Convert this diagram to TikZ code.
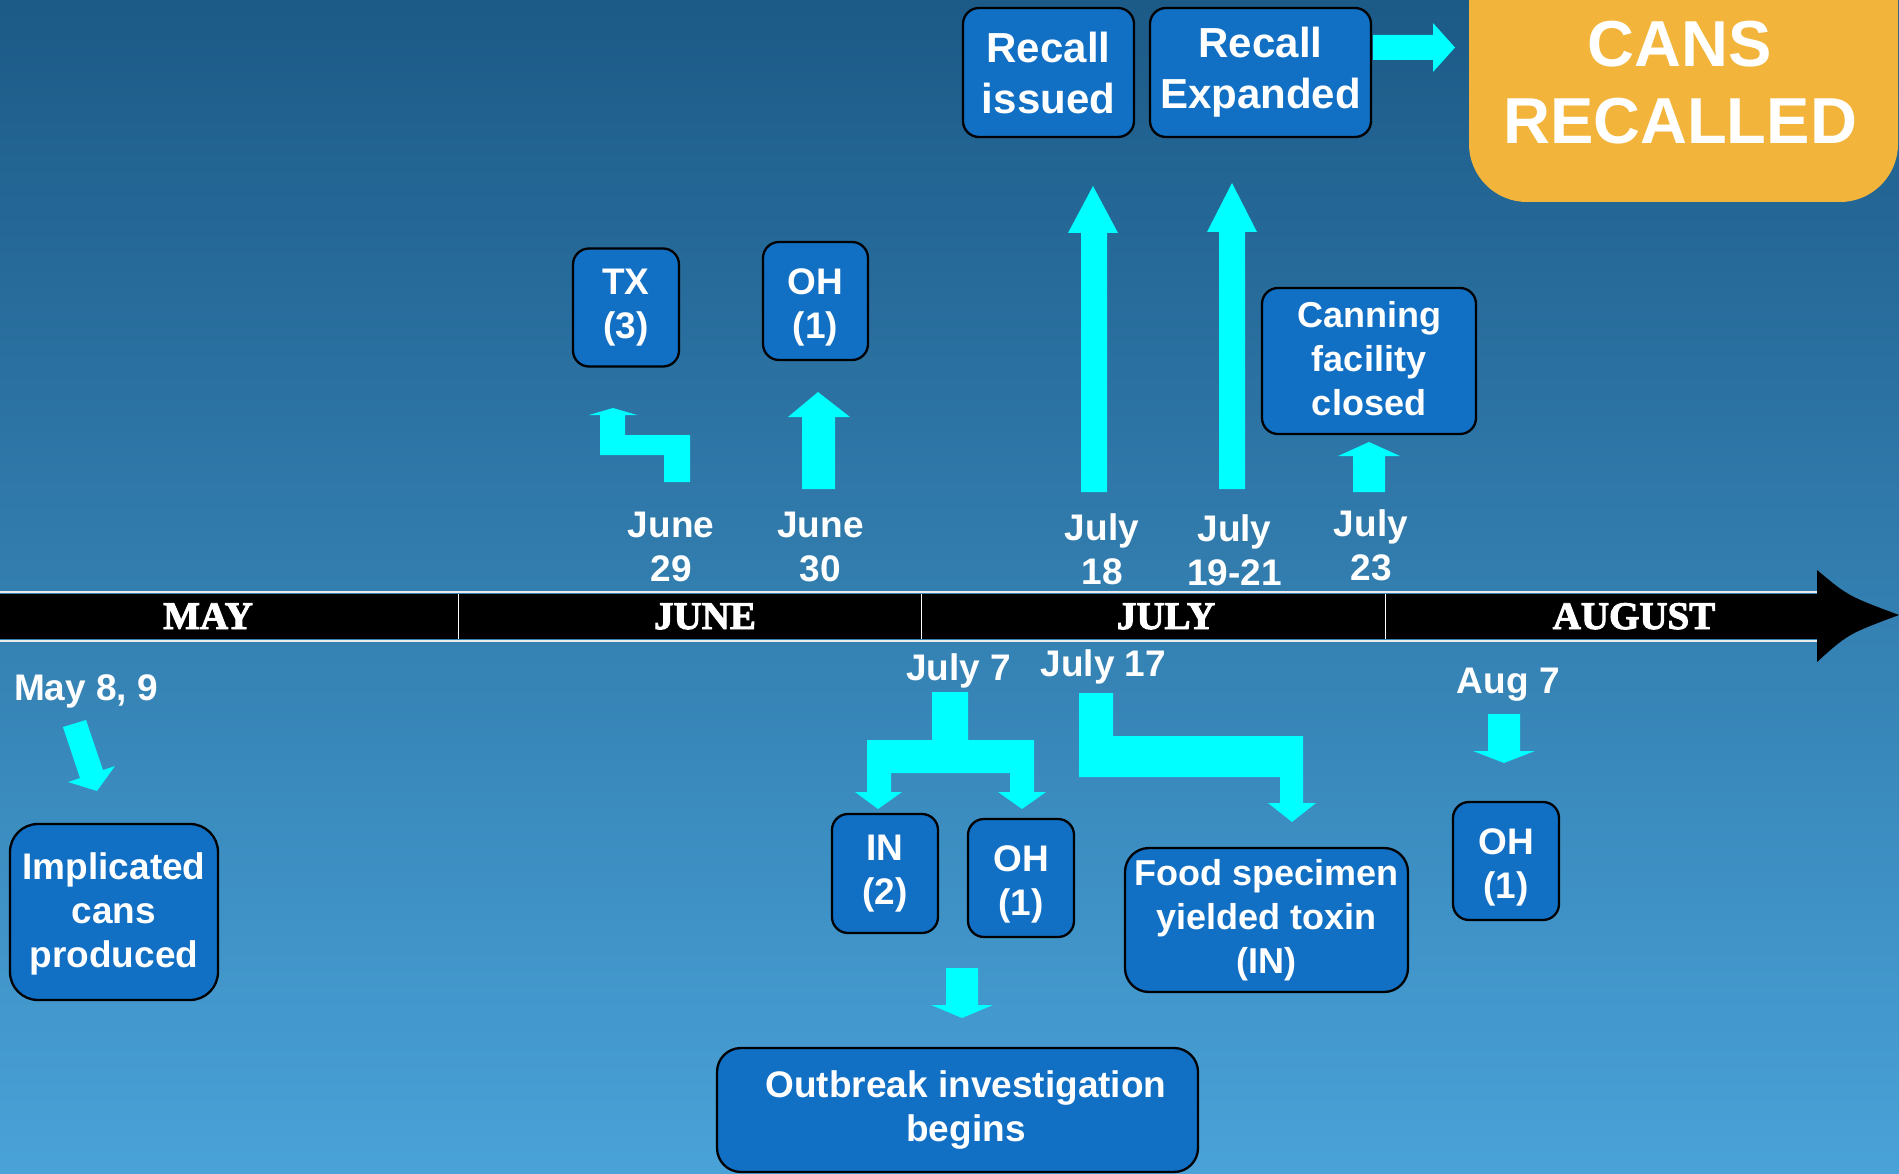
\documentclass[tikz,border=0pt]{standalone}
\usepackage{fontspec}
\setmainfont{Liberation Sans}
\newfontfamily\monthfont{Liberation Serif}[UprightFeatures={FakeBold=2.5}, BoldFeatures={FakeBold=2.5}]
\definecolor{bgtop}{HTML}{1C5A87}
\definecolor{bgbot}{HTML}{49A2D8}
\definecolor{boxblue}{HTML}{116FC4}
\definecolor{arrcyan}{HTML}{00FFFF}
\definecolor{cansorange}{HTML}{F2B43A}
\begin{document}
\begin{tikzpicture}[x=1pt,y=-1pt,
  box/.style={draw=black, line width=2.3pt, fill=boxblue, rounded corners=16pt, text=white,
    font=\bfseries\fontsize{37}{44}\selectfont, align=center, inner sep=0pt},
  datelbl/.style={text=white, font=\bfseries\fontsize{37}{44}\selectfont, align=center, inner sep=0pt},
  monthlbl/.style={text=white, font=\monthfont\bfseries\fontsize{39}{44}\selectfont, inner sep=0pt, anchor=base},
  blockarrow/.style={fill=arrcyan},
  sep/.style={draw=white, line width=1pt}]
\useasboundingbox (0,0) rectangle (1899,1174);
\clip (0,0) rectangle (1899,1174);
\fill[top color=bgtop, bottom color=bgbot] (0,0) rectangle (1899,1174);

% ---- CANS RECALLED
\fill[cansorange, rounded corners=58pt] (1469,-90) rectangle (1898,202);
\node[datelbl, font=\bfseries\fontsize{65}{77}\selectfont] (cans) at (1680,82.5) {CANS\\RECALLED};

% ---- top boxes
\node[box, minimum width=171pt, minimum height=129pt, font=\bfseries\fontsize{42}{51}\selectfont] (recall1) at (1048.5,72.5) {Recall\\issued};
\node[box, minimum width=221pt, minimum height=129pt, font=\bfseries\fontsize{42}{51}\selectfont] (recall2) at (1260.5,72.5) {Recall\\Expanded};
\fill[blockarrow] (1373,35) -- (1433,35) -- (1433,23) -- (1455,47.5) -- (1433,72) -- (1433,60) -- (1373,60) -- cycle;

\node[box, minimum width=106pt, minimum height=118pt] (tx) at (626,307.5) {TX\\(3)};
\node[box, minimum width=105pt, minimum height=118pt] (oh30) at (815.5,301) {\rule{0pt}{38pt}OH\\(1)};
\node[box, minimum width=214pt, minimum height=146pt, font=\bfseries\fontsize{36}{44}\selectfont] (canning) at (1369,361) {Canning\\facility\\closed\rule[-6pt]{0pt}{6pt}};

% ---- upward arrows
\fill[blockarrow] (600,455) -- (600,415) -- (589,415) -- (613,408) -- (637,415) -- (625,415) -- (625,435) -- (690,435) -- (690,482) -- (664,482) -- (664,455) -- cycle;
\fill[blockarrow] (802,489) -- (802,417) -- (788,417) -- (818,392) -- (850,417) -- (835,417) -- (835,489) -- cycle;
\fill[blockarrow] (1081,492) -- (1081,233) -- (1068,233) -- (1093,186) -- (1118,233) -- (1107,233) -- (1107,492) -- cycle;
\fill[blockarrow] (1219,489) -- (1219,232) -- (1207,232) -- (1232,183) -- (1257,232) -- (1245,232) -- (1245,489) -- cycle;
\fill[blockarrow] (1353,492) -- (1353,456) -- (1338,456) -- (1369,442) -- (1400,456) -- (1385,456) -- (1385,492) -- cycle;

% ---- date labels above
\node[datelbl] (d29) at (671,546.8) {June\\29};
\node[datelbl] (d30) at (820.5,547) {June\\30};
\node[datelbl] (d18) at (1102,548.8) {July\\18};
\node[datelbl] (d1921) at (1234.5,550) {July\\19-21};
\node[datelbl] (d23) at (1371,545.5) {July\\23};

% ---- timeline
\fill[black] (0,594) rectangle (1818,639);
\draw[white!85!gray, line width=2pt] (0,592) -- (1818,592);
\draw[white!85!gray, line width=2pt] (0,641) -- (1818,641);
\fill[black] (1817,570) .. controls (1848,596) .. (1899,615) .. controls (1848,634) .. (1817,662) -- cycle;
\draw[sep] (458,594) -- (458,639);
\draw[sep] (921.5,594) -- (921.5,639);
\draw[sep] (1385.5,594) -- (1385.5,639);
\node[monthlbl] (may) at (208,629) {MAY};
\node[monthlbl] (june) at (705,629) {JUNE};
\node[monthlbl] (july) at (1166,629) {JULY};
\node[monthlbl] (aug) at (1634,629) {AUGUST};

% ---- below timeline
\node[datelbl, anchor=base] (may89) at (86,700) {May 8, 9};
\fill[blockarrow] (63,727) -- (86,720) -- (103,770) -- (115,766) -- (97,791) -- (68,782) -- (80,778) -- cycle;
\node[box, minimum width=208pt, minimum height=176pt, rounded corners=28pt] (implicated) at (114,912) {\rule{0pt}{30pt}Implicated\\cans\\produced};

\node[datelbl, anchor=base] (jul7) at (958.7,680.7) {July 7};
\node[datelbl, anchor=base] (jul17) at (1103.3,676.7) {July 17};
\node[datelbl, anchor=base] (aug7) at (1508.3,693.3) {Aug 7};

\fill[blockarrow] (932,692) -- (968,692) -- (968,740) -- (1034,740) -- (1034,792) -- (1046,792) -- (1022,809) -- (998,792) -- (1010,792) -- (1010,773) -- (891,773) -- (891,792) -- (902,792) -- (878,809) -- (855,792) -- (867,792) -- (867,740) -- (932,740) -- cycle;
\fill[blockarrow] (1079,693) -- (1113,693) -- (1113,736) -- (1303,736) -- (1303,803) -- (1316,803) -- (1292,822) -- (1268,803) -- (1280,803) -- (1280,777) -- (1079,777) -- cycle;
\fill[blockarrow] (1488,714) -- (1520,714) -- (1520,751) -- (1535,751) -- (1504,763) -- (1473,751) -- (1488,751) -- cycle;
\fill[blockarrow] (946,968) -- (978,968) -- (978,1005) -- (993,1005) -- (962,1018) -- (931,1005) -- (946,1005) -- cycle;

\node[box, minimum width=106pt, minimum height=119pt] (in2) at (885,873.5) {IN\\(2)};
\node[box, minimum width=106pt, minimum height=118pt] (oh7) at (1021,878) {\rule{0pt}{38pt}OH\\(1)};
\node[box, minimum width=283pt, minimum height=144pt, rounded corners=24pt, font=\bfseries\fontsize{36}{44}\selectfont] (food) at (1266.5,920) {Food specimen\\yielded toxin\\(IN)};
\node[box, minimum width=106pt, minimum height=118pt] (ohaug) at (1506,861) {\rule{0pt}{38pt}OH\\(1)};
\node[box, minimum width=481pt, minimum height=124pt, rounded corners=24pt] (outbreak) at (957.5,1110) {\hspace*{17pt}Outbreak investigation\\\hspace*{17pt}begins};
\end{tikzpicture}
\end{document}
